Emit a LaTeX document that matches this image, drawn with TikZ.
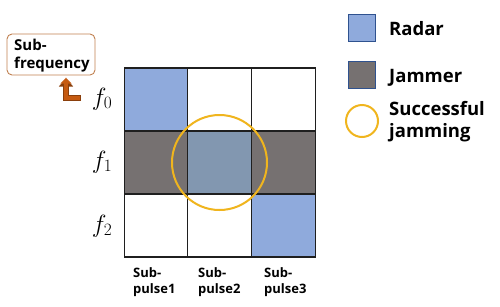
\documentclass[tikz,border=0pt]{standalone}
\usepackage{fontspec}
\setmainfont{Open Sans}
\usetikzlibrary{arrows.meta}
\definecolor{radarblue}{HTML}{8FAADC}
\definecolor{jamgrey}{HTML}{767171}
\definecolor{overlapc}{HTML}{8297B0}
\definecolor{ringcol}{HTML}{F0B51E}
\definecolor{gridline}{HTML}{1F1F1F}
\definecolor{legborder}{HTML}{2F528F}
\definecolor{boxbrown}{HTML}{C08050}
\definecolor{arrbrown}{HTML}{C55A11}
\begin{document}
\begin{tikzpicture}[x=1pt,y=-1pt,
  cell/.style={draw=gridline, line width=1.2pt, minimum width=63.7pt, minimum height=63pt, inner sep=0pt, outer sep=0pt},
  legsq/.style={draw=legborder, line width=0.7pt, minimum size=27pt, inner sep=0pt},
  legtext/.style={font=\bfseries\fontsize{18.5}{22}\selectfont, inner sep=0pt, anchor=base west},
  pulsetext/.style={font=\bfseries\fontsize{13}{16}\selectfont, inner sep=0pt, align=left, anchor=base west},
  freqlbl/.style={font=\fontsize{25}{25}\selectfont, inner sep=0pt},
  ring/.style={circle, draw=ringcol, line width=2pt, inner sep=0pt}
]
\useasboundingbox (0,0) rectangle (500,306);
% grid cells
\node[cell, fill=radarblue] (c00) at (156,99.5) {};
\node[cell, fill=white] (c01) at (219.7,99.5) {};
\node[cell, fill=white] (c02) at (283.3,99.5) {};
\node[cell, fill=jamgrey] (c10) at (156,162.5) {};
\node[cell, fill=overlapc] (c11) at (219.7,162.5) {};
\node[cell, fill=jamgrey] (c12) at (283.3,162.5) {};
\node[cell, fill=white] (c20) at (156,225.5) {};
\node[cell, fill=white] (c21) at (219.7,225.5) {};
\node[cell, fill=radarblue] (c22) at (283.3,225.5) {};
% successful jamming ring
\node[ring, minimum size=95pt] (hit) at (219.5,162.5) {};
% frequency labels
\node[freqlbl] (f0) at (102,99) {$f_0$};
\node[freqlbl] (f1) at (102,162) {$f_1$};
\node[freqlbl] (f2) at (102,226) {$f_2$};
% sub-pulse labels
\node[pulsetext] (p1) at (133,293) {Sub-\\pulse1};
\node[pulsetext] (p2) at (198,293) {Sub-\\pulse2};
\node[pulsetext] (p3) at (264,293) {Sub-\\pulse3};
% sub-frequency box
\node[draw=boxbrown, line width=0.9pt, rounded corners=5pt, minimum width=88pt, minimum height=41pt, inner sep=0pt] (subf) at (51,54.5) {};
\node[font=\bfseries\fontsize{15}{18}\selectfont, inner sep=0pt, align=left, anchor=base west] (subftext) at (14,68) {Sub-\\frequency};
\coordinate (arrfoot) at (81,98);
\coordinate (arrtip) at (66,79);
\draw[arrbrown!70!black, line width=6.5pt, -{Triangle[width=14pt,length=7.5pt]}] (arrfoot) -| (arrtip);
\draw[arrbrown, line width=4.5pt, -{Triangle[width=11pt,length=6pt]}] ([xshift=-1pt]arrfoot) -| ([yshift=1.3pt]arrtip);
% legend
\node[legsq, fill=radarblue] (legradar) at (361.5,27.5) {};
\node[legsq, fill=jamgrey] (legjam) at (361.5,74.5) {};
\node[ring, minimum size=32pt] (legring) at (362,121) {};
\node[legtext] (radartxt) at (389,35) {Radar};
\node[legtext] (jamtxt) at (389,82) {Jammer};
\node[legtext, align=left] (succtxt) at (389,137) {Successful\\jamming};
\end{tikzpicture}
\end{document}
